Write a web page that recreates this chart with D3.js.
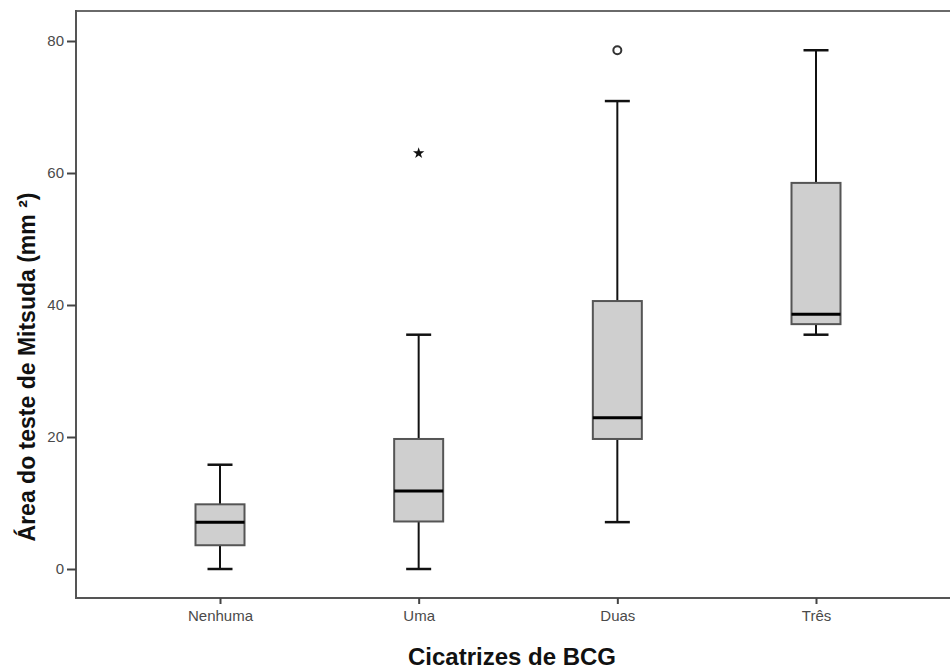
<!DOCTYPE html>
<html>
<head>
    <title>Mitsuda boxplot</title>
    <script src="https://d3js.org/d3.v7.min.js"></script>
    <style>
        html, body { margin: 0; padding: 0; background: #fff; overflow: hidden; }
        svg { display: block; }
    </style>
</head>
<body>
<script>
    var w = 950;
    var h = 670;

    // data
    var categories = ["Nenhuma", "Uma", "Duas", "Três"];
    var whiskerLow  = [0, 0, 7.1, 35.5];
    var q1          = [3.6, 7.2, 19.7, 37.1];
    var median      = [7.1, 11.8, 22.9, 38.6];
    var q3          = [9.8, 19.7, 40.6, 58.5];
    var whiskerHigh = [15.8, 35.5, 70.9, 78.6];
    // outliers: [category index, value, kind]
    var outliers = [[1, 63.0, "extreme"], [2, 78.6, "outlier"]];
    var yTicks = [0, 20, 40, 60, 80];

    // the frame runs off the right edge of the picture
    var plotLeft = 76, plotTop = 11, plotBottom = 598, plotRight = 1000;

    var yScale = d3.scaleLinear()
                   .domain([0, 80])
                   .range([569, 41]);
    var xScale = d3.scalePoint()
                   .domain(categories)
                   .range([220, 816]);

    var svg = d3.select("body")
                .append("svg")
                .attr("width", plotRight)
                .attr("height", h);

    //frame top
    svg.append("line")
       .attr("x1", plotLeft).attr("x2", plotRight)
       .attr("y1", plotTop).attr("y2", plotTop)
       .attr("stroke", "#6a6a6a").attr("stroke-width", 2);

    //axes
    var yAxis = d3.axisLeft(yScale).tickValues(yTicks).tickSize(9).tickPadding(3);
    var gy = svg.append("g")
                .attr("transform", "translate(" + plotLeft + ",0)")
                .call(yAxis);
    gy.select(".domain").attr("d", "M0," + (plotTop - 1) + "V" + plotBottom)
      .attr("stroke", "#555").attr("stroke-width", 2);

    var xAxis = d3.axisBottom(xScale).tickSize(6).tickPadding(6);
    var gx = svg.append("g")
                .attr("transform", "translate(0," + plotBottom + ")")
                .call(xAxis);
    gx.select(".domain").attr("d", "M" + (plotLeft - 1) + ",0H" + plotRight)
      .attr("stroke", "#555").attr("stroke-width", 2);

    svg.selectAll(".tick line").attr("stroke", "#444").attr("stroke-width", 2);
    svg.selectAll(".tick text")
       .attr("font-family", "Liberation Sans, Arial, sans-serif")
       .attr("font-size", "15px")
       .attr("fill", "#4a4a4a");

    //boxes
    var boxW = 49, capW = 25;
    var idx = d3.range(categories.length);
    var g = svg.selectAll("g.box")
               .data(idx)
               .enter()
               .append("g")
               .attr("class", "box")
               .attr("transform", function(i){ return "translate(" + xScale(categories[i]) + ",0)"; });

    g.append("line")
     .attr("x1", 0).attr("x2", 0)
     .attr("y1", function(i){ return yScale(q3[i]); })
     .attr("y2", function(i){ return yScale(whiskerHigh[i]); })
     .attr("stroke", "#111").attr("stroke-width", 2);
    g.append("line")
     .attr("x1", 0).attr("x2", 0)
     .attr("y1", function(i){ return yScale(q1[i]); })
     .attr("y2", function(i){ return yScale(whiskerLow[i]); })
     .attr("stroke", "#111").attr("stroke-width", 2);
    g.append("line")
     .attr("x1", -capW / 2).attr("x2", capW / 2)
     .attr("y1", function(i){ return yScale(whiskerHigh[i]); })
     .attr("y2", function(i){ return yScale(whiskerHigh[i]); })
     .attr("stroke", "#111").attr("stroke-width", 2.5);
    g.append("line")
     .attr("x1", -capW / 2).attr("x2", capW / 2)
     .attr("y1", function(i){ return yScale(whiskerLow[i]); })
     .attr("y2", function(i){ return yScale(whiskerLow[i]); })
     .attr("stroke", "#111").attr("stroke-width", 2.5);
    g.append("rect")
     .attr("x", -boxW / 2)
     .attr("width", boxW)
     .attr("y", function(i){ return yScale(q3[i]); })
     .attr("height", function(i){ return yScale(q1[i]) - yScale(q3[i]); })
     .attr("fill", "#cfcfcf")
     .attr("stroke", "#555").attr("stroke-width", 2);
    g.append("line")
     .attr("x1", -boxW / 2).attr("x2", boxW / 2)
     .attr("y1", function(i){ return yScale(median[i]); })
     .attr("y2", function(i){ return yScale(median[i]); })
     .attr("stroke", "#000").attr("stroke-width", 3);

    //outliers
    var star = d3.symbol().type(d3.symbolStar).size(40);
    outliers.forEach(function(o){
        var cx = xScale(categories[o[0]]), cy = yScale(o[1]);
        if (o[2] === "extreme") {
            svg.append("path")
               .attr("d", star())
               .attr("transform", "translate(" + cx + "," + cy + ")")
               .attr("fill", "#111");
        } else {
            svg.append("circle")
               .attr("cx", cx).attr("cy", cy).attr("r", 4)
               .attr("fill", "none")
               .attr("stroke", "#333").attr("stroke-width", 2);
        }
    });

    //titles
    svg.append("text")
       .text("Cicatrizes de BCG")
       .attr("x", 512).attr("y", 665)
       .attr("text-anchor", "middle")
       .attr("font-family", "Liberation Sans, Arial, sans-serif")
       .attr("font-weight", "bold")
       .attr("font-size", "24px")
       .attr("fill", "#111");
    svg.append("text")
       .text("Área do teste de Mitsuda (mm ²)")
       .attr("transform", "translate(35,367) rotate(-90)")
       .attr("text-anchor", "middle")
       .attr("font-family", "Liberation Sans, Arial, sans-serif")
       .attr("font-weight", "bold")
       .attr("font-size", "23px")
       .attr("fill", "#111");
</script>
</body>
</html>
